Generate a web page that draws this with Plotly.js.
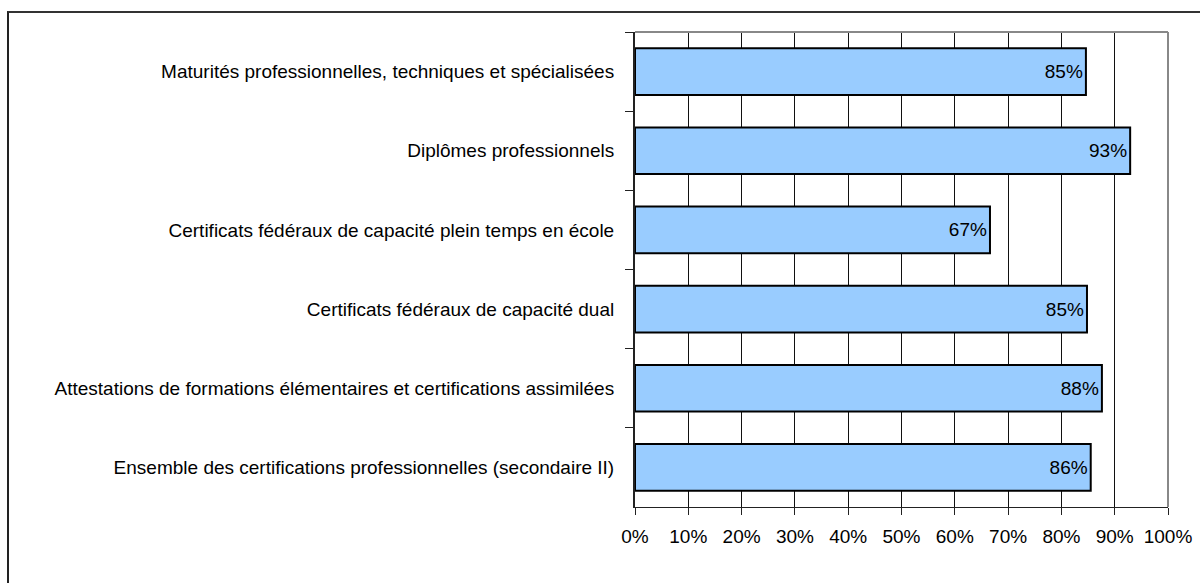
<!DOCTYPE html>
<html>
<head>
<meta charset="utf-8">
<script src="https://cdn.plot.ly/plotly-3.0.1.min.js"></script>
<style>
  html, body { margin: 0; padding: 0; background: #fff; }
  #wrap { position: relative; width: 1200px; height: 583px; overflow: hidden; }
  #frame { position: absolute; left: 7px; top: 11px; width: 1300px; height: 700px;
           border-left: 2px solid #222; border-top: 2px solid #333; box-sizing: border-box; }
  #chart { position: absolute; left: 0; top: 0; width: 1200px; height: 583px; }
</style>
</head>
<body>
<div id="wrap">
  <div id="frame"></div>
  <div id="chart"></div>
</div>
<script>
const categories = [
  "Maturités professionnelles, techniques et spécialisées",
  "Diplômes professionnels",
  "Certificats fédéraux de capacité plein temps en école",
  "Certificats fédéraux de capacité dual",
  "Attestations de formations élémentaires et certifications assimilées",
  "Ensemble des certifications professionnelles (secondaire II)"
];
const shares = [0.846, 0.929, 0.666, 0.848, 0.876, 0.855];
const xTickValues = [0, 0.1, 0.2, 0.3, 0.4, 0.5, 0.6, 0.7, 0.8, 0.9, 1.0];

const font = "Liberation Sans, Arial, sans-serif";
const fs = 19;

const trace = {
  type: "bar",
  orientation: "h",
  x: shares,
  y: categories,
  marker: { color: "#99CCFF", line: { color: "#000", width: 2 } },
  texttemplate: "%{x:.0%}",
  textposition: "inside",
  insidetextanchor: "end",
  textangle: 0,
  textfont: { family: font, size: fs, color: "#000" },
  cliponaxis: false,
  hoverinfo: "skip"
};

const layout = {
  width: 1200,
  height: 583,
  margin: { l: 635, r: 32, t: 32, b: 76, pad: 0 },
  paper_bgcolor: "rgba(0,0,0,0)",
  plot_bgcolor: "#fff",
  showlegend: false,
  bargap: 0.41,
  font: { family: font, size: fs, color: "#000" },
  xaxis: {
    range: [0, 1],
    tickvals: xTickValues,
    tickformat: ".0%",
    showgrid: true,
    gridcolor: "#111",
    gridwidth: 1,
    zeroline: false,
    showline: true,
    linecolor: "#222",
    linewidth: 1,
    ticks: "outside",
    ticklen: 7,
    tickcolor: "#222",
    ticklabelstandoff: 5,
    tickfont: { family: font, size: fs, color: "#000" },
    fixedrange: true
  },
  yaxis: {
    type: "category",
    categoryorder: "array",
    categoryarray: categories,
    autorange: "reversed",
    showgrid: false,
    zeroline: false,
    showline: true,
    linecolor: "#222",
    linewidth: 2,
    ticks: "outside",
    tickson: "boundaries",
    ticklen: 8,
    tickcolor: "#222",
    ticklabelstandoff: 15,
    tickfont: { family: font, size: fs, color: "#000" },
    fixedrange: true
  },
  shapes: [
    { type: "line", xref: "paper", yref: "paper", x0: 0, x1: 1, y0: 1, y1: 1,
      line: { color: "#888", width: 2 } },
    { type: "line", xref: "paper", yref: "paper", x0: 1, x1: 1, y0: 0, y1: 1,
      line: { color: "#888", width: 2 } }
  ]
};

Plotly.newPlot("chart", [trace], layout, { displayModeBar: false, staticPlot: true });
</script>
</body>
</html>
